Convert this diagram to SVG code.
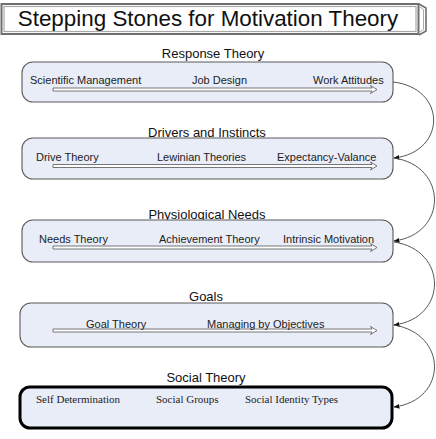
<svg xmlns="http://www.w3.org/2000/svg" width="436" height="439" viewBox="0 0 436 439">
<defs>
<marker id="ah" viewBox="0 0 10 10" refX="9" refY="5" markerWidth="6" markerHeight="6" orient="auto-start-reverse" markerUnits="userSpaceOnUse">
<path d="M0,1 L10,5 L0,9 Z" fill="#111"/>
</marker>
<style>
.box{fill:#e9edf8;stroke:#5a5a5a;stroke-width:1.1}
.box5{fill:#e9edf8;stroke:#000;stroke-width:3}
.lbl{font-family:"Liberation Sans",Arial,sans-serif;font-size:13px;fill:#111;text-anchor:middle}
.item{font-family:"Liberation Sans",Arial,sans-serif;font-size:11px;fill:#222}
.sitem{font-family:"Liberation Serif","Times New Roman",serif;font-size:11px;fill:#222}
.arr{fill:#fff;stroke:#555;stroke-width:0.8}
.con{fill:none;stroke:#444;stroke-width:0.9}
</style>
</defs>
<rect width="436" height="439" fill="#fff"/>
<g id="title">
<rect x="1.5" y="4" width="417" height="30" fill="#fff" stroke="#6e6e6e" stroke-width="2"/>
<rect x="4" y="6.5" width="412" height="25" fill="#fff" stroke="#a8a8a8" stroke-width="1.2"/>
<path d="M419,4 L426,8 L426,31 L419,35" fill="none" stroke="#6e6e6e" stroke-width="1.6"/>
<path d="M420,7 L423.5,9.5 L423.5,29.5 L420,32" fill="none" stroke="#aaa" stroke-width="1"/>
<text x="208" y="26" font-family="Liberation Sans, Arial, sans-serif" font-size="22.4" fill="#111" text-anchor="middle">Stepping Stones for Motivation Theory</text>
</g>
<g id="response">
<text class="lbl" x="213" y="58">Response Theory</text>
<rect class="box" x="22" y="62" width="371" height="40" rx="11"/>
<path class="arr" d="M53,88 H372 L370.5,85.5 L377,89.5 L370.5,93.5 L372,91 H53 Z"/>
<text class="item" x="30" y="84">Scientific Management</text>
<text class="item" x="192" y="84">Job Design</text>
<text class="item" x="313" y="84">Work Attitudes</text>
</g>
<g id="drivers">
<text class="lbl" x="207" y="137">Drivers and Instincts</text>
<rect class="box" x="22" y="138" width="371" height="41" rx="11"/>
<path class="arr" d="M53,164.5 H372 L370.5,162 L377,166 L370.5,170 L372,167.5 H53 Z"/>
<text class="item" x="36" y="161">Drive Theory</text>
<text class="item" x="157" y="161">Lewinian Theories</text>
<text class="item" x="277" y="161">Expectancy-Valance</text>
</g>
<g id="physiological">
<text class="lbl" x="207" y="219">Physiological Needs</text>
<rect class="box" x="22" y="220" width="371" height="42" rx="11"/>
<path class="arr" d="M53,246 H372 L370.5,243.5 L377,247.5 L370.5,251.5 L372,249 H53 Z"/>
<text class="item" x="39" y="243">Needs Theory</text>
<text class="item" x="159" y="243">Achievement Theory</text>
<text class="item" x="283" y="243">Intrinsic Motivation</text>
</g>
<g id="goals">
<text class="lbl" x="206" y="301">Goals</text>
<rect class="box" x="20" y="303" width="373" height="44" rx="11"/>
<path class="arr" d="M53,329 H372 L370.5,326.5 L377,330.5 L370.5,334.5 L372,332 H53 Z"/>
<text class="item" x="86" y="328">Goal Theory</text>
<text class="item" x="207" y="328">Managing by Objectives</text>
</g>
<g id="social">
<text class="lbl" x="206" y="382">Social Theory</text>
<rect class="box5" x="20" y="387" width="372" height="41" rx="10"/>
<text class="sitem" x="36" y="403">Self Determination</text>
<text class="sitem" x="156" y="403">Social Groups</text>
<text class="sitem" x="245" y="403">Social Identity Types</text>
</g>
<g id="connectors">
<path class="con" d="M393,82 C447,88 447,152 394,158" marker-end="url(#ah)"/>
<path class="con" d="M394,158 C448,166 448,234 394,241" marker-end="url(#ah)"/>
<path class="con" d="M394,242 C448,250 448,318 394,325" marker-end="url(#ah)"/>
<path class="con" d="M394,325 C448,334 448,400 394,407" marker-end="url(#ah)"/>
</g>
</svg>
